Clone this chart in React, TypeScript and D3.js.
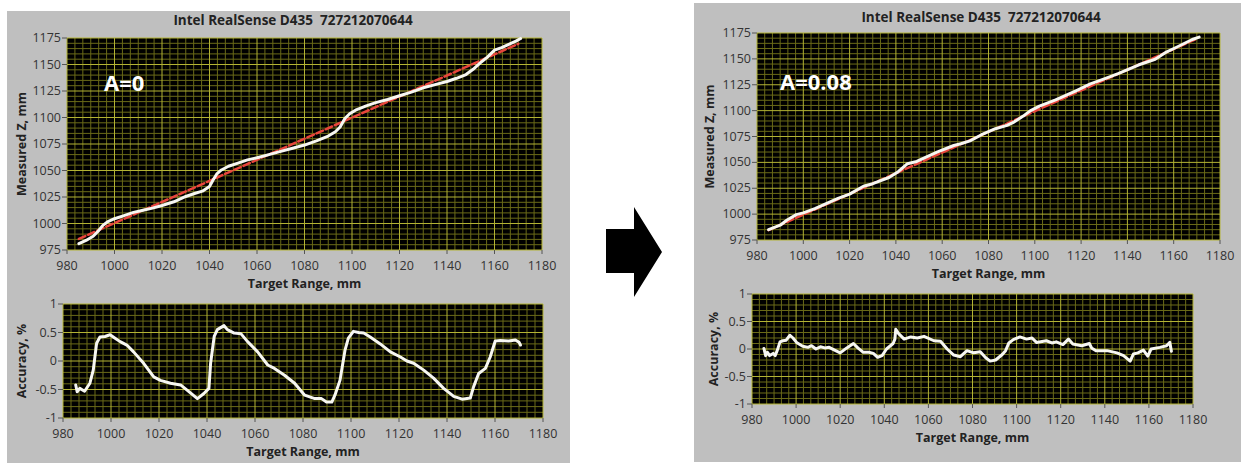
import React from "react";
import * as d3 from "d3";

// target range axis (shared)
const xTicks = d3.range(980, 1181, 20);
const zTicks = d3.range(975, 1176, 25);
const accTicks = [-1, -0.5, 0, 0.5, 1];
const accTickLabels = ["-1", "-0.5", "0", "0.5", "1"];

const title = "Intel RealSense D435\u00a0\u00a0727212070644";

// A=0 : measured Z vs target range
const leftMeasured: [number, number][] = [
  [985, 981], [988, 984], [991, 988], [993, 992.5], [995, 998], [997, 1001.5],
  [1000, 1004.5], [1004, 1007.5], [1008, 1010.5], [1012, 1012.5], [1016, 1014.5],
  [1020, 1017], [1025, 1020.5], [1030, 1025.5], [1034, 1028.5], [1037, 1030.5],
  [1040, 1035], [1041.5, 1041], [1043, 1046.5], [1045, 1050.5], [1048, 1054],
  [1052, 1057], [1056, 1060], [1060, 1062], [1065, 1065], [1070, 1068],
  [1075, 1071], [1080, 1074], [1085, 1078], [1090, 1082.5], [1093, 1086.5],
  [1095, 1091], [1097, 1099], [1099, 1103.5], [1102, 1107.5], [1106, 1111],
  [1110, 1114], [1115, 1117], [1120, 1120.5], [1125, 1124], [1130, 1128],
  [1135, 1131], [1140, 1134], [1144, 1137], [1148, 1140.5], [1151, 1145.5],
  [1154, 1151.5], [1157, 1157], [1160, 1163.5], [1163, 1166], [1166, 1169],
  [1169, 1172], [1171, 1174.5],
];
const leftReference: [number, number][] = [[985, 985.5], [1170, 1169.5]];

const leftAccuracy: [number, number][] = [
  [985.3, -0.42], [985.9, -0.54], [987, -0.48], [989, -0.53], [991.2, -0.39],
  [992.6, -0.16], [994, 0.31], [995.4, 0.42], [997.5, 0.43], [999.6, 0.46],
  [1001.7, 0.4], [1003.8, 0.34], [1006.6, 0.28], [1009.4, 0.16], [1013.6, -0.04],
  [1017.8, -0.28], [1020.6, -0.34], [1024.8, -0.39], [1029, -0.42], [1031.7, -0.51],
  [1036, -0.66], [1038.7, -0.57], [1040.8, -0.48], [1041.5, -0.04], [1043, 0.43],
  [1044.3, 0.55], [1047.1, 0.62], [1048.5, 0.55], [1051.3, 0.49], [1054.1, 0.48],
  [1056.9, 0.34], [1061.1, 0.16], [1065.3, -0.07], [1068.1, -0.13], [1072.3, -0.25],
  [1076.5, -0.39], [1080.7, -0.6], [1084.9, -0.66], [1087.7, -0.66], [1089.8, -0.72],
  [1092, -0.72], [1093.3, -0.6], [1095.4, -0.34], [1097.5, 0.19], [1098.9, 0.4],
  [1101, 0.52], [1103.2, 0.5], [1105.3, 0.49], [1108, 0.42], [1112.2, 0.3],
  [1116.4, 0.16], [1120.6, 0.07], [1123.3, 0.0], [1126.1, -0.04], [1130.3, -0.16],
  [1134.4, -0.3], [1138.6, -0.48], [1142.8, -0.62], [1146.3, -0.67], [1149.7, -0.65],
  [1151.1, -0.45], [1153.2, -0.22], [1156, -0.13], [1158, 0.07], [1160.1, 0.35],
  [1162.2, 0.36], [1165.7, 0.35], [1168.5, 0.37], [1170, 0.33], [1170.6, 0.28],
];

// A=0.08
const rightMeasured: [number, number][] = [
  [985, 985], [990, 989.3], [993, 994.3], [997, 999.5], [1000, 1001.2],
  [1005, 1005.3], [1015, 1015.2], [1020, 1019.3], [1026, 1027], [1030, 1029.4],
  [1037, 1035.4], [1041, 1041], [1045, 1048.7], [1049, 1050.9], [1058, 1060.2],
  [1065, 1066.3], [1068, 1068], [1072, 1070.8], [1077, 1076.7], [1083, 1082.5],
  [1088, 1085.7], [1091, 1088.9], [1095, 1094.7], [1098, 1099.8], [1102, 1104.4],
  [1109, 1110.3], [1118, 1119.4], [1124, 1125.8], [1130, 1130.7], [1136, 1135.7],
  [1145, 1144.3], [1152, 1149.6], [1157, 1156.8], [1161, 1161], [1168, 1168.7],
  [1171, 1171],
];
const rightReference: [number, number][] = [[985, 984.5], [1170, 1169.5]];

const rightAccuracy: [number, number][] = [
  [985.4, 0.01], [986.2, -0.12], [987, -0.06], [988, -0.12], [989.6, -0.08],
  [990.5, -0.12], [991.5, -0.02], [992.7, 0.13], [994, 0.15], [995.5, 0.16],
  [997.2, 0.25], [998.6, 0.2], [1000.2, 0.12], [1003, 0.05], [1005.4, 0.03],
  [1007, 0.06], [1009, 0.0], [1011, 0.04], [1013, 0.02], [1015, 0.03],
  [1017, -0.01], [1020, -0.07], [1023, 0.02], [1026, 0.1], [1028, 0.02],
  [1030.5, -0.06], [1033, -0.06], [1035, -0.08], [1037, -0.15], [1039, -0.12],
  [1041, 0.0], [1044, 0.1], [1044.8, 0.18], [1045.2, 0.36], [1046.5, 0.28],
  [1049, 0.18], [1052, 0.22], [1055, 0.2], [1058, 0.23], [1062.5, 0.15],
  [1065.5, 0.14], [1068.5, 0.0], [1071.5, -0.11], [1074.5, -0.14], [1077.5, -0.03],
  [1080.5, -0.07], [1083.5, -0.05], [1086, -0.16], [1088, -0.22], [1090.5, -0.2],
  [1093.5, -0.1], [1095, -0.03], [1096.5, 0.11], [1098.5, 0.17], [1101.5, 0.22],
  [1104.5, 0.18], [1107, 0.2], [1109, 0.12], [1113.5, 0.15], [1116, 0.11],
  [1118, 0.13], [1121, 0.08], [1123.5, 0.18], [1125.5, 0.09], [1129.5, 0.06],
  [1133, 0.1], [1134, 0.02], [1136, -0.03], [1141, -0.03], [1145.5, -0.07],
  [1148.5, -0.12], [1151.5, -0.22], [1153, -0.09], [1155, -0.07], [1157.5, -0.02],
  [1159.5, -0.13], [1161, 0.0], [1165, 0.03], [1168, 0.06], [1169.5, 0.12],
  [1170.2, -0.04],
];

const FONT = "'Open Sans', 'DejaVu Sans', sans-serif";
const MAJOR = "#b3b334";
const MINOR = "#6a6a18";

type Box = { l: number; t: number; r: number; b: number };

function minors(ticks: number[], div: number) {
  const out: number[] = [];
  for (let i = 0; i < ticks.length - 1; i++) {
    const step = (ticks[i + 1] - ticks[i]) / div;
    for (let k = 1; k < div; k++) out.push(ticks[i] + k * step);
  }
  return out;
}

function Plot({ box, yTicks, yLabels, yTitle, yTitleX, lines }: {
  box: Box; yTicks: number[]; yLabels: string[]; yTitle: string; yTitleX: number;
  lines: { data: [number, number][]; color: string; width: number; dash?: string }[];
}) {
  const x = d3.scaleLinear().domain([980, 1180]).range([box.l, box.r]);
  const y = d3.scaleLinear().domain([yTicks[0], yTicks[yTicks.length - 1]]).range([box.b, box.t]);
  const line = d3.line<[number, number]>().x(d => x(d[0])).y(d => y(d[1]));
  const xMin = minors(xTicks, 6);
  const yMin = minors(yTicks, 5);
  return (
    <g>
      <rect x={box.l} y={box.t} width={box.r - box.l} height={box.b - box.t} fill="#000" />
      {xMin.map((v, i) => <line key={"xm" + i} x1={x(v)} x2={x(v)} y1={box.t} y2={box.b} stroke={MINOR} />)}
      {yMin.map((v, i) => <line key={"ym" + i} y1={y(v)} y2={y(v)} x1={box.l} x2={box.r} stroke={MINOR} />)}
      {xTicks.map(v => <line key={"xM" + v} x1={x(v)} x2={x(v)} y1={box.t} y2={box.b} stroke={MAJOR} />)}
      {yTicks.map(v => <line key={"yM" + v} y1={y(v)} y2={y(v)} x1={box.l} x2={box.r} stroke={MAJOR} />)}
      {lines.map((ln, i) => (
        <path key={"l" + i} d={line(ln.data) ?? ""} fill="none" stroke={ln.color}
          strokeWidth={ln.width} strokeDasharray={ln.dash} strokeLinejoin="round" strokeLinecap="round" />
      ))}
      {xTicks.map(v => (
        <g key={"xt" + v}>
          <line x1={x(v)} x2={x(v)} y1={box.b} y2={box.b + 4} stroke="#555" />
          <text x={x(v)} y={box.b + 20} textAnchor="middle" fontSize={12.5} fill="#333" fontFamily={FONT}>{v}</text>
        </g>
      ))}
      {yTicks.map((v, i) => (
        <g key={"yt" + v}>
          <line x1={box.l - 5} x2={box.l} y1={y(v)} y2={y(v)} stroke="#555" />
          <text x={box.l - 6} y={y(v) + 4} textAnchor="end" fontSize={12.5} fill="#333" fontFamily={FONT}>{yLabels[i]}</text>
        </g>
      ))}
      <text x={(box.l + box.r) / 2} y={box.b + 38} textAnchor="middle" fontSize={12.5} fontWeight="bold"
        fill="#222" fontFamily={FONT}>Target Range, mm</text>
      <text transform={`translate(${yTitleX},${(box.t + box.b) / 2}) rotate(-90)`} textAnchor="middle"
        dominantBaseline="central" fontSize={12.5} fontWeight="bold" fill="#222" fontFamily={FONT}>{yTitle}</text>
    </g>
  );
}

function Panel({ px, py, pw, ph, titleX, titleY, top, bottom, yTitleX1, yTitleX2, note, noteX, noteY, measured, reference, accuracy }: any) {
  return (
    <g>
      <rect x={px} y={py} width={pw} height={ph} fill="#bfbfbf" />
      <text x={titleX} y={titleY} textAnchor="middle" fontSize={13.5} fontWeight="bold" fill="#222" fontFamily={FONT}>{title}</text>
      <Plot box={top} yTicks={zTicks} yLabels={zTicks.map(String)} yTitle="Measured Z, mm" yTitleX={yTitleX1}
        lines={[
          { data: reference, color: "#e8453c", width: 2.5, dash: "7 3" },
          { data: measured, color: "#f7f7f2", width: 3 },
        ]} />
      <text x={noteX} y={noteY} fontSize={22} fontWeight="bold" fill="#fff" fontFamily={FONT}>{note}</text>
      <Plot box={bottom} yTicks={accTicks} yLabels={accTickLabels} yTitle="Accuracy, %" yTitleX={yTitleX2}
        lines={[{ data: accuracy, color: "#f7f7f2", width: 3 }]} />
    </g>
  );
}

export default function App() {
  return (
    <svg width={1241} height={465} style={{ position: "absolute", left: 0, top: 0, background: "#fff" }}>
      <Panel px={7} py={11} pw={563} ph={452} titleX={293} titleY={25}
        top={{ l: 67, t: 38, r: 542, b: 250 }} bottom={{ l: 63, t: 304, r: 543, b: 418 }}
        yTitleX1={21} yTitleX2={21} note="A=0" noteX={104} noteY={91}
        measured={leftMeasured} reference={leftReference} accuracy={leftAccuracy} />
      <Panel px={694} py={3} pw={547} ph={459} titleX={981} titleY={22}
        top={{ l: 757, t: 33, r: 1220, b: 240 }} bottom={{ l: 752, t: 294, r: 1193, b: 404 }}
        yTitleX1={709} yTitleX2={713} note="A=0.08" noteX={780} noteY={90}
        measured={rightMeasured} reference={rightReference} accuracy={rightAccuracy} />
      <polygon points="606,229 634,229 634,207 662,252 634,297 634,273 606,273" fill="#000" />
    </svg>
  );
}
